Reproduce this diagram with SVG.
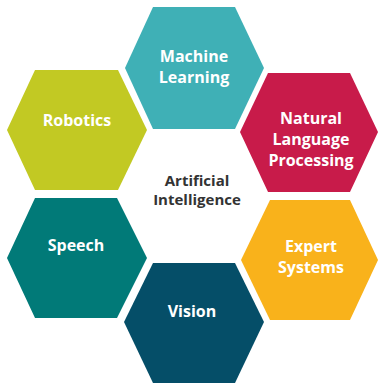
<svg xmlns="http://www.w3.org/2000/svg" width="378" height="388" viewBox="0 0 378 388">
<style>
.t{font-family:"Open Sans","Noto Sans","Liberation Sans",sans-serif;font-weight:bold;font-size:16px;fill:#fff;text-anchor:middle}
.c{font-family:"Open Sans","Noto Sans","Liberation Sans",sans-serif;font-weight:bold;font-size:15px;fill:#333;text-anchor:middle}
</style>
<rect width="378" height="388" fill="#fff"/>
<g id="machine-learning">
<polygon points="153,7 235,7 264,68 235,129 153,129 125,68" fill="#3fb0b6"/>
<text class="t" x="194" y="62">Machine</text>
<text class="t" x="194" y="83">Learning</text>
</g>
<g id="nlp">
<polygon points="268,73 350,73 378,132 350,192 268,192 240,132" fill="#c81b4a"/>
<text class="t" x="311" y="124">Natural</text>
<text class="t" x="311" y="145">Language</text>
<text class="t" x="311" y="166">Processing</text>
</g>
<g id="robotics">
<polygon points="35,70 118,70 147,130 118,190 35,190 7,130" fill="#c2c923"/>
<text class="t" x="77" y="126">Robotics</text>
</g>
<g id="speech">
<polygon points="35,198 117,198 147,258 117,318 35,318 7,258" fill="#017a78"/>
<text class="t" x="76" y="251">Speech</text>
</g>
<g id="expert-systems">
<polygon points="270,200 350,200 378,260 350,320 270,320 241,260" fill="#f9b21b"/>
<text class="t" x="311" y="252">Expert</text>
<text class="t" x="311" y="273">Systems</text>
</g>
<g id="vision">
<polygon points="153,263 235,263 264,322 235,383 153,383 124,322" fill="#054e68"/>
<text class="t" x="192" y="317">Vision</text>
</g>
<g id="center">
<text class="c" x="197" y="186">Artificial</text>
<text class="c" x="197" y="205">Intelligence</text>
</g>
<g id="connectors"/>
</svg>
